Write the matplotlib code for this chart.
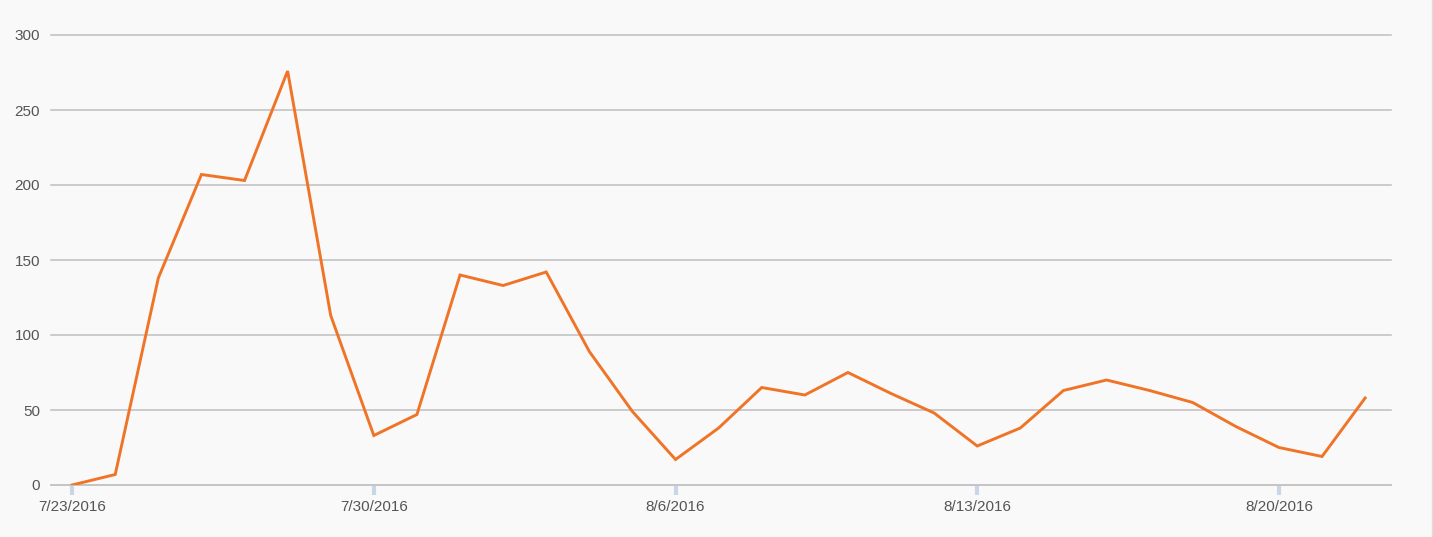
import matplotlib
matplotlib.use("Agg")
import matplotlib.pyplot as plt
import numpy as np
import pandas as pd

dates = pd.date_range("2016-07-23", "2016-08-22", freq="D")
values = [0, 7, 138, 207, 203, 276, 113, 33, 47, 140, 133, 142, 89, 49, 17,
          38, 65, 60, 75, 61, 48, 26, 38, 63, 70, 63, 55, 39, 25, 19, 58]
tick_dates = ["7/23/2016", "7/30/2016", "8/6/2016", "8/13/2016", "8/20/2016"]
y_ticks = [0, 50, 100, 150, 200, 250, 300]

plt.rcParams["font.family"] = ["Liberation Sans", "DejaVu Sans"]

bg = "#f9f9f9"
fig = plt.figure(figsize=(14.33, 5.37), dpi=100, facecolor=bg)
ax = fig.add_axes([51 / 1433, 52 / 537, 1340 / 1433, 450 / 537], facecolor=bg)

x = np.arange(len(dates))
ax.plot(x, values, color="#f07427", lw=2.1, solid_joinstyle="miter", zorder=3)

ax.set_ylim(0, 300)
ax.set_xlim(-0.49, 30.6)
ax.set_yticks(y_ticks)
ax.set_yticklabels([str(v) for v in y_ticks])
ax.yaxis.grid(True, color="#c4c4c4", lw=1.2)
for gl in ax.yaxis.get_gridlines():
    gl.set_clip_on(False)
ax.tick_params(axis="y", length=0, pad=8, labelsize=11, labelcolor="#555555")

tick_pos = [list(dates.strftime("%-m/%-d/%Y")).index(t) for t in tick_dates]
ax.set_xticks(tick_pos)
ax.set_xticklabels(tick_dates)
ax.tick_params(axis="x", length=7, width=3, color="#c8d6e6", direction="out",
               pad=4, labelsize=11, labelcolor="#555555")

for s in ["top", "right", "left"]:
    ax.spines[s].set_visible(False)
ax.spines["bottom"].set_color("#c4c4c4")
ax.spines["bottom"].set_linewidth(1.2)

# thin frame edge on the right of the panel
fig.add_artist(plt.Line2D([1431.5 / 1433] * 2, [0, 1], color="#dddddd", lw=1))

fig.savefig("out.png", dpi=100, facecolor=bg)
